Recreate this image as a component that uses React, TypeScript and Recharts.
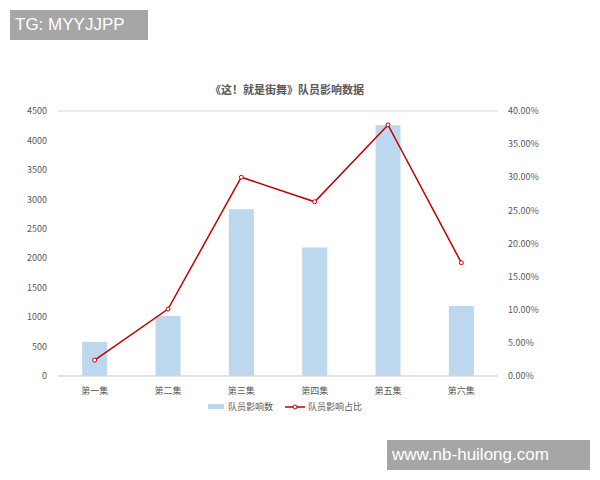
import { Bar, CartesianGrid, ComposedChart, Line, XAxis, YAxis } from 'recharts'

const episodes = ['第一集', '第二集', '第三集', '第四集', '第五集', '第六集']
const influenceCount = [580, 1020, 2830, 2180, 4260, 1190]
const influenceShare = [0.024, 0.101, 0.3, 0.263, 0.379, 0.171]
const leftTicks = [0, 500, 1000, 1500, 2000, 2500, 3000, 3500, 4000, 4500]
const rightTicks = [0, 0.05, 0.1, 0.15, 0.2, 0.25, 0.3, 0.35, 0.4]

const data = episodes.map((name, i) => ({
  name,
  count: influenceCount[i],
  share: influenceShare[i],
}))

const FONT = '"Noto Sans CJK SC", "Noto Sans", sans-serif'
const TICK = { fontSize: 9, fill: '#595959', fontFamily: FONT }
const BAR = '#bdd7ee'
const LINE = '#c00000'

const badge = {
  position: 'absolute' as const,
  background: '#a6a6a6',
  color: '#fff',
  fontFamily: '"Liberation Sans", Arial, sans-serif',
  fontSize: 17,
  lineHeight: '30px',
  height: 30,
  paddingLeft: 5,
  boxSizing: 'border-box' as const,
}

export default function App() {
  return (
    <div style={{ position: 'fixed', left: 0, top: 0, width: 600, height: 480, background: '#fff' }}>
      <ComposedChart
        width={600}
        height={480}
        data={data}
        margin={{ top: 111, right: 0, bottom: 74, left: 0 }}
        barCategoryGap="33%"
      >
        <CartesianGrid vertical={false} stroke="#d9d9d9" />
        <XAxis
          dataKey="name"
          height={30}
          tick={TICK}
          tickLine={false}
          axisLine={{ stroke: '#d9d9d9' }}
          tickMargin={6}
        />
        <YAxis
          yAxisId="left"
          width={58}
          domain={[0, 4500]}
          ticks={leftTicks}
          tick={TICK}
          tickLine={false}
          axisLine={false}
          tickSize={0}
          tickMargin={11}
        />
        <YAxis
          yAxisId="right"
          orientation="right"
          width={102}
          domain={[0, 0.4]}
          ticks={rightTicks}
          tick={{ ...TICK, textAnchor: 'start' }}
          tickFormatter={(v: number) => (v * 100).toFixed(2) + '%'}
          tickLine={false}
          axisLine={false}
          tickSize={0}
          tickMargin={10}
        />
        <Bar yAxisId="left" dataKey="count" fill={BAR} isAnimationActive={false} />
        <Line
          yAxisId="right"
          dataKey="share"
          stroke={LINE}
          strokeWidth={1.5}
          dot={{ r: 2, stroke: LINE, strokeWidth: 1, fill: '#fff' }}
          activeDot={false}
          isAnimationActive={false}
        />
      </ComposedChart>

      <div
        style={{
          position: 'absolute',
          top: 81,
          left: 0,
          width: 574,
          textAlign: 'center',
          fontFamily: FONT,
          fontSize: 11,
          fontWeight: 'bold',
          color: '#595959',
        }}
      >
        《这！就是街舞》队员影响数据
      </div>

      <div
        style={{
          position: 'absolute',
          top: 400,
          left: 208,
          display: 'flex',
          alignItems: 'center',
          fontFamily: FONT,
          fontSize: 9,
          color: '#595959',
        }}
      >
        <span style={{ width: 16, height: 5, background: BAR, marginRight: 4 }} />
        <span>队员影响数</span>
        <svg width={20} height={8} style={{ marginLeft: 12, marginRight: 3 }}>
          <line x1={0} y1={4} x2={20} y2={4} stroke={LINE} strokeWidth={1.5} />
          <circle cx={10} cy={4} r={2} stroke={LINE} strokeWidth={1} fill="#fff" />
        </svg>
        <span>队员影响占比</span>
      </div>

      <div style={{ ...badge, left: 10, top: 10, width: 138 }}>TG: MYYJJPP</div>
      <div style={{ ...badge, left: 387, top: 440, width: 203 }}>www.nb-huilong.com</div>
    </div>
  )
}
